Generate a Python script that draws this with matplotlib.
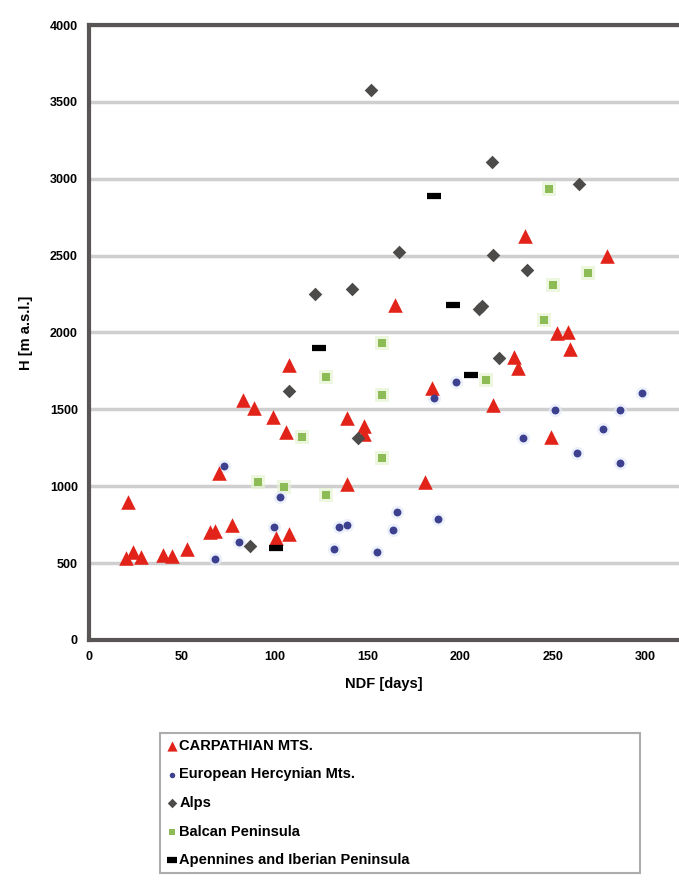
import matplotlib.pyplot as plt
import numpy as np

plt.rcParams['font.family'] = ['Liberation Sans', 'DejaVu Sans']

# ==============================
# Data (NDF [days], H [m a.s.l.])
# ==============================
carp_x = [21, 20, 24, 28, 40, 45, 53, 65, 68, 77, 70, 83, 89, 99, 106, 108, 101, 108,
          139, 139, 148, 148, 165, 185, 181, 218, 229, 231, 235, 252, 258, 259, 249, 279]
carp_y = [900, 530, 575, 540, 550, 545, 590, 700, 710, 750, 1085, 1560, 1510, 1450, 1350, 1790, 660, 690,
          1015, 1445, 1390, 1340, 2180, 1640, 1030, 1530, 1840, 1770, 2630, 1995, 2000, 1890, 1320, 2500]

herc_x = [73, 68, 81, 100, 103, 135, 139, 132, 155, 166, 164, 188, 198, 186, 251, 234, 263, 277, 286, 286, 298]
herc_y = [1130, 525, 640, 735, 930, 735, 750, 590, 575, 830, 715, 785, 1680, 1575, 1495, 1315, 1215, 1370, 1495, 1150, 1605]

alps_x = [152, 217, 264, 122, 142, 167, 218, 236, 210, 212, 221, 108, 87, 145]
alps_y = [3577, 3107, 2965, 2250, 2283, 2523, 2504, 2407, 2150, 2175, 1834, 1620, 611, 1314]

balc_x = [248, 250, 245, 269, 214, 158, 158, 158, 128, 115, 91, 105, 128]
balc_y = [2933, 2309, 2081, 2387, 1691, 1593, 1184, 1932, 1711, 1320, 1028, 995, 943]

apen_x = [124, 186, 196, 206, 101]
apen_y = [1900, 2888, 2180, 1724, 598]

labels = ["CARPATHIAN MTS.", "European Hercynian Mts.", "Alps",
          "Balcan Peninsula", "Apennines and Iberian Peninsula"]

# ==============================
# Figure
# ==============================
fig = plt.figure(figsize=(6.79, 8.81), dpi=100)
ax = fig.add_axes([0.131, 0.2736, 0.869, 0.698])

ax.set_xlim(0, 318)
ax.set_ylim(0, 4000)
ax.set_xticks(np.arange(0, 301, 50))
ax.set_yticks(np.arange(0, 4001, 500))
for yv in np.arange(500, 4001, 500):
    ax.axhline(yv, color="#cfcfcf", lw=2.5, zorder=0)

# faint halos
ax.scatter(balc_x, balc_y, s=110, marker="s", color="#e6f3d2", alpha=0.7, lw=0, zorder=1)
ax.scatter(herc_x, herc_y, s=90, marker="o", color="#e3ebf8", alpha=0.7, lw=0, zorder=1)

ax.scatter(carp_x, carp_y, s=110, marker="^", color="#e2231a", lw=0, zorder=3, label=labels[0])
ax.scatter(herc_x, herc_y, s=32, marker="o", color="#3d3f8f", lw=0, zorder=3, label=labels[1])
ax.scatter(alps_x, alps_y, s=48, marker="D", color="#4d4a4a", lw=0, zorder=3, label=labels[2])
ax.scatter(balc_x, balc_y, s=32, marker="s", color="#8dbb55", lw=0, zorder=2, label=labels[3])
ax.scatter(apen_x, apen_y, s=90, marker="_", color="black", linewidths=4.5, zorder=3, label=labels[4])

for side in ["left", "top", "bottom"]:
    ax.spines[side].set_color("#5a5555")
    ax.spines[side].set_linewidth(3)
ax.spines["right"].set_visible(False)
ax.tick_params(length=0, pad=8, labelsize=9)
for lab in ax.get_xticklabels() + ax.get_yticklabels():
    lab.set_fontweight("bold")

ax.set_xlabel("NDF [days]", fontsize=10.5, fontweight="bold", labelpad=10)
ax.set_ylabel("H [m a.s.l.]", fontsize=10.5, fontweight="bold", labelpad=12)

leg = fig.legend(loc="upper left", bbox_to_anchor=(0.236, 0.007, 0.707, 0.161),
                 mode="expand", frameon=True, fancybox=False, edgecolor="#999999",
                 prop={"weight": "bold", "size": 10.5}, handletextpad=0.1,
                 handlelength=0.8, labelspacing=1.0, markerscale=0.7,
                 borderpad=0.4, borderaxespad=0)
leg.get_frame().set_linewidth(1.5)

plt.savefig("out.png", dpi=100)
plt.close()
